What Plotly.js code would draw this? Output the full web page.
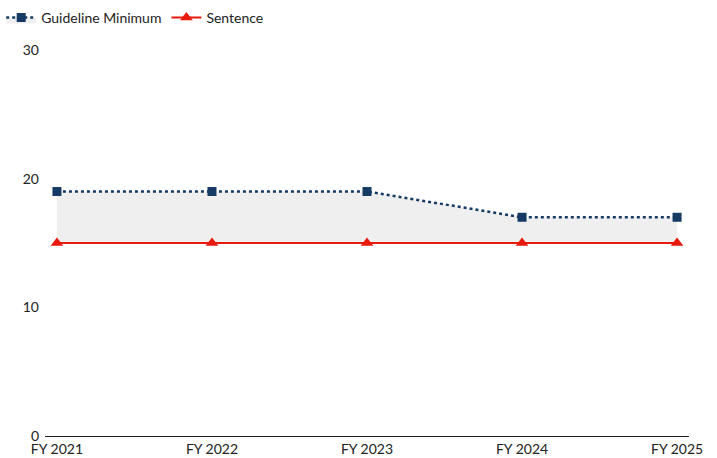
<!DOCTYPE html>
<html>
<head>
<meta charset="utf-8">
<script src="https://cdn.plot.ly/plotly-3.0.1.min.js"></script>
<style>html,body{margin:0;padding:0;background:#fff;}#chart{width:717px;height:458px;}</style>
</head>
<body>
<div id="chart"></div>
<script>
var categories = ["FY 2021", "FY 2022", "FY 2023", "FY 2024", "FY 2025"];
var guidelineMinimum = [19, 19, 19, 17, 17];
var sentence = [15, 15, 15, 15, 15];
var yTicks = [0, 10, 20, 30];

var traces = [
  {
    x: categories, y: sentence, name: "Sentence", type: "scatter", mode: "lines+markers",
    line: {color: "#e8190d", width: 2},
    marker: {symbol: "triangle-up", size: 11, color: "#e8190d"},
    hoverinfo: "skip"
  },
  {
    x: categories, y: guidelineMinimum, name: "Guideline Minimum", type: "scatter", mode: "lines+markers",
    fill: "tonexty", fillcolor: "#efefef",
    line: {color: "#153a63", width: 2.5, dash: "dot"},
    marker: {symbol: "square", size: 9, color: "#153a63"},
    hoverinfo: "skip"
  }
];

var layout = {
  width: 717, height: 458,
  margin: {l: 45, r: 28, t: 50, b: 22, autoexpand: false},
  paper_bgcolor: "#fff", plot_bgcolor: "#fff",
  font: {family: "Lato, 'Open Sans', sans-serif", size: 14, color: "#222"},
  showlegend: true,
  legend: {orientation: "h", traceorder: "reversed", x: -0.068, xanchor: "left", y: 1.083, yanchor: "middle",
           font: {size: 14, color: "#222"}, itemwidth: 30, bgcolor: "rgba(0,0,0,0)"},
  xaxis: {
    type: "category", range: [-0.077, 4.077], showgrid: false, zeroline: false,
    showline: true, linecolor: "#222", linewidth: 1, ticks: "", fixedrange: true,
    tickfont: {size: 14, color: "#222"}
  },
  yaxis: {
    range: [0, 30], tickvals: yTicks, ticktext: yTicks.map(String), showgrid: false, zeroline: false,
    showline: false, ticks: "", fixedrange: true, ticklabelstandoff: 5, tickfont: {size: 14, color: "#222"}
  }
};

Plotly.newPlot("chart", traces, layout, {displayModeBar: false, staticPlot: true});
</script>
</body>
</html>
